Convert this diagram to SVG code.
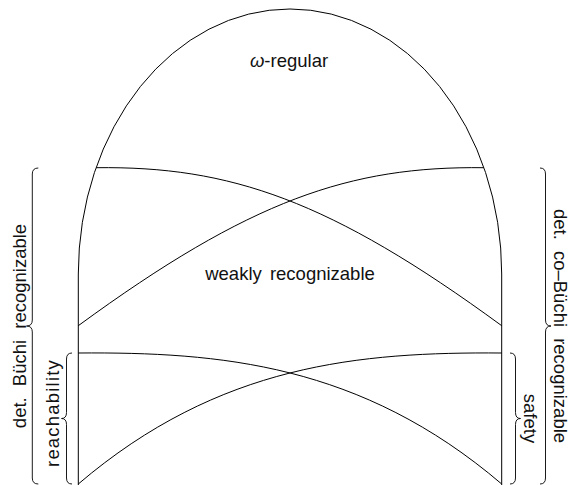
<svg xmlns="http://www.w3.org/2000/svg" width="572" height="485" viewBox="0 0 572 485">
<style>
.ln{fill:none;stroke:#000;stroke-width:1}
.br{fill:none;stroke:#000;stroke-width:0.9}
.t{font-family:"Liberation Sans",Arial,sans-serif;font-size:18.5px;fill:#111}
.bt{font-family:"Liberation Sans",Arial,sans-serif;font-size:18.5px;fill:#111;word-spacing:6px}
</style>
<rect width="572" height="485" fill="#fff"/>
<g id="omega-regular">
<path class="ln" d="M78.3,485 V274 A211.7,265 0 0 1 501.7,274 V485"/>
<text class="t" x="289" y="67" text-anchor="middle"><tspan font-style="italic">ω</tspan>-regular</text>
</g>
<g id="weakly-recognizable">
<text class="t" x="290" y="279.5" text-anchor="middle" style="word-spacing:3px">weakly recognizable</text>
</g>
<g id="connectors">
<path class="ln" d="M96.2,167.7 C230,166 330,200 501.7,325.7"/>
<path class="ln" d="M483.8,167.7 C350,166 250,200 78.3,325.7"/>
<path class="ln" d="M78.3,353 C219.4,352 360.6,363.6 501.7,484"/>
<path class="ln" d="M501.7,353 C360.6,352 219.4,363.6 78.3,484"/>
</g>
<g id="det-buchi">
<path class="br" d="M38.3,168 Q32.3,168 32.3,174 V320 Q32.3,326 26.5,326 Q32.3,326 32.3,332 V478 Q32.3,484 38.3,484"/>
<text class="bt" transform="translate(25.5,326) rotate(-90)" text-anchor="middle">det. Büchi recognizable</text>
</g>
<g id="reachability">
<path class="br" d="M72,353 Q66.5,353 66.5,359 V412.5 Q66.5,418.5 61.5,418.5 Q66.5,418.5 66.5,424.5 V478 Q66.5,484 72,484"/>
<text class="t" transform="translate(59,413) rotate(-90)" text-anchor="middle" style="letter-spacing:1.2px">reachability</text>
</g>
<g id="safety">
<path class="br" d="M510,353 Q515.5,353 515.5,359 V412.5 Q515.5,418.5 520.5,418.5 Q515.5,418.5 515.5,424.5 V478 Q515.5,484 510,484"/>
<text class="t" transform="translate(524,418.5) rotate(90)" text-anchor="middle">safety</text>
</g>
<g id="det-co-buchi">
<path class="br" d="M540,168 Q545.5,168 545.5,174 V320 Q545.5,326 551,326 Q545.5,326 545.5,332 V478 Q545.5,484 540,484"/>
<text class="bt" transform="translate(554,326) rotate(90)" text-anchor="middle">det. co–Büchi recognizable</text>
</g>
</svg>
